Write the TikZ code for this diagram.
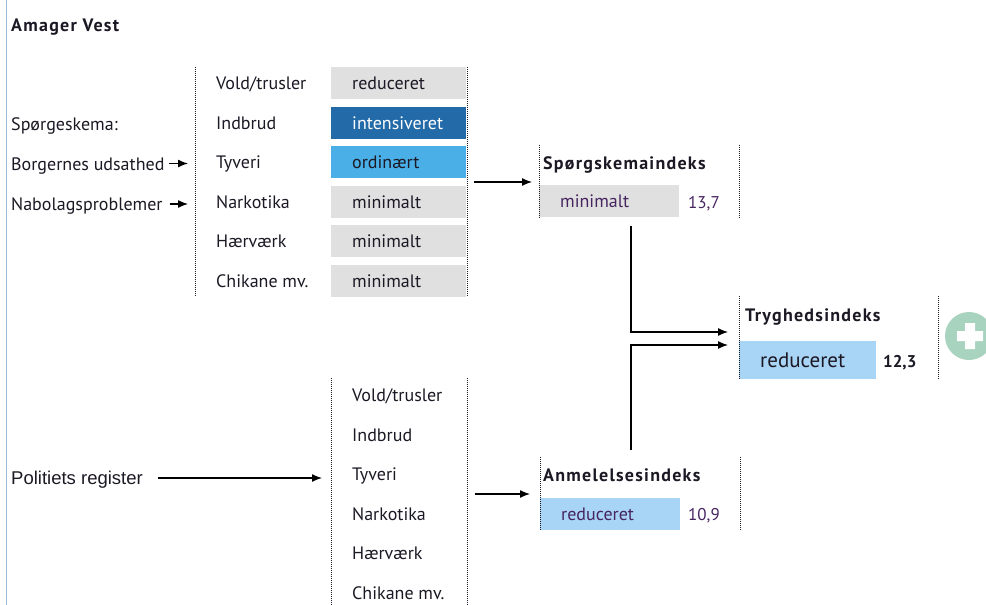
\documentclass[tikz,border=0pt]{standalone}
\usepackage{fontspec}
\setmainfont{PT Sans}
\newfontfamily\titlefont[LetterSpace=7]{PT Sans}
\newfontfamily\registerfont{Liberation Sans}
\usepackage{xcolor}
\definecolor{textdark}{RGB}{28,24,36}
\definecolor{indextext}{RGB}{70,36,96}
\definecolor{boxgray}{RGB}{224,224,224}
\definecolor{darkblue}{RGB}{35,106,168}
\definecolor{midblue}{RGB}{73,175,230}
\definecolor{lightblue}{RGB}{168,212,245}
\definecolor{plusgreen}{RGB}{168,211,191}
\definecolor{edgeblue}{RGB}{160,185,215}
\usepackage{tikz}
\usetikzlibrary{calc}
\usetikzlibrary{arrows.meta}
\newcommand{\rowstep}{39.6}
\newcommand{\widthval}{93pt}
\newcommand{\widthindex}{98pt}
\tikzset{
    common/.style={anchor=west, inner sep=0pt, text=textdark, text height=13pt, text depth=0pt,
        font=\fontsize{18}{21}\selectfont},
    item/.style={common},
    title/.style={common, font=\titlefont\fontsize{18}{21}\selectfont\bfseries},
    value/.style={common, rectangle, minimum height=32pt, inner xsep=21pt, text width=\widthval, align=left},
    index/.style={value, text width=\widthindex, text=indextext},
    score/.style={common, text=indextext, font=\fontsize{17}{20}\selectfont},
    frame/.style={textdark, line width=1pt, dash pattern=on 1pt off 1pt},
    flow/.style={->, line width=1.3pt, black}
}

\begin{document}
\begin{tikzpicture}[x=1pt, y=-1pt, >={Latex[length=10pt, width=8pt]}]
      \useasboundingbox (0,0) rectangle (986,605);
      \draw[edgeblue, line width=1.2pt] (6.5,0) -- (6.5,605);

      \node[title] (area) at (11,25) {Amager Vest};

      % questionnaire inputs
      \path (11,124) node[item] (sporgeskema) {Spørgeskema:}
          to ++(0,39.5) node[item] (borger) {Borgernes udsathed}
          to ++(0,40.5) node[item] (nabo) {Nabolagsproblemer};

      % crime rows, questionnaire
      \coordinate (tabA-nw) at (195,67);
      \coordinate (tabA-sw) at (195,297);
      \coordinate (tabA-ne) at (467,67);
      \coordinate (tabA-se) at (467,297);
      \path (216,83) node[item] (voldA) {Vold/trusler}
          to ++(0,\rowstep) node[item] (indbrudA) {Indbrud}
          to ++(0,\rowstep) node[item] (tyveriA) {Tyveri}
          to ++(0,\rowstep) node[item] (narkoA) {Narkotika}
          to ++(0,\rowstep) node[item] (haervaerkA) {Hærværk}
          to ++(0,\rowstep) node[item] (chikaneA) {Chikane mv.};
      \path (331,83) node[value, fill=boxgray] (voldA-val) {reduceret}
          to ++(0,\rowstep) node[value, fill=darkblue, text=white] (indbrudA-val) {intensiveret}
          to ++(0,\rowstep) node[value, fill=midblue] (tyveriA-val) {ordinært}
          to ++(0,\rowstep) node[value, fill=boxgray] (narkoA-val) {minimalt}
          to ++(0,\rowstep) node[value, fill=boxgray] (haervaerkA-val) {minimalt}
          to ++(0,\rowstep) node[value, fill=boxgray] (chikaneA-val) {minimalt};
      \draw[frame] (tabA-nw) -- (tabA-sw);
      \draw[frame] (tabA-ne) -- (tabA-se);

      % questionnaire index
      \coordinate (sporg-nw) at (539,145);
      \coordinate (sporg-sw) at (539,218);
      \coordinate (sporg-ne) at (739,145);
      \coordinate (sporg-se) at (739,218);
      \node[title] (sporg-title) at (543,163) {Spørgskemaindeks};
      \node[index, fill=boxgray] (sporg-val) at (539,201) {minimalt};
      \node[score] (sporg-score) at (688,202) {13,7};
      \draw[frame] (sporg-nw) -- (sporg-sw);
      \draw[frame] (sporg-ne) -- (sporg-se);

      % safety index
      \coordinate (tryg-nw) at (739,296);
      \coordinate (tryg-sw) at (739,380);
      \coordinate (tryg-ne) at (938,296);
      \coordinate (tryg-se) at (938,380);
      \node[title] (tryg-title) at (745,315) {Tryghedsindeks};
      \node[index, fill=lightblue, text=textdark, minimum height=38pt, text width=95pt, text height=15pt,
            font=\fontsize{21}{24}\selectfont] (tryg-val) at (739,360) {reduceret};
      \node[score, text=textdark, font=\fontsize{17}{20}\selectfont\bfseries] (tryg-score) at (883,361) {12,3};
      \draw[frame] (tryg-nw) -- (tryg-sw);
      \draw[frame] (tryg-ne) -- (tryg-se);
      \fill[plusgreen] (969,336) circle (24);
      \fill[white] (965,323) rectangle (975,349) (957,331) rectangle (983,341);

      % police register
      \node[item, text height=13pt, font=\registerfont\fontsize{18.5}{21}\selectfont] (politi) at (11,478) {Politiets register};
      \coordinate (tabB-nw) at (331,378);
      \coordinate (tabB-sw) at (331,606);
      \coordinate (tabB-ne) at (467,378);
      \coordinate (tabB-se) at (467,606);
      \path (352,395) node[item] (voldB) {Vold/trusler}
          to ++(0,\rowstep) node[item] (indbrudB) {Indbrud}
          to ++(0,\rowstep) node[item] (tyveriB) {Tyveri}
          to ++(0,\rowstep) node[item] (narkoB) {Narkotika}
          to ++(0,\rowstep) node[item] (haervaerkB) {Hærværk}
          to ++(0,\rowstep) node[item] (chikaneB) {Chikane mv.};
      \draw[frame] (tabB-nw) -- (tabB-sw);
      \draw[frame] (tabB-ne) -- (tabB-se);

      % report index
      \coordinate (anm-nw) at (540,457);
      \coordinate (anm-sw) at (540,530);
      \coordinate (anm-ne) at (740,457);
      \coordinate (anm-se) at (740,530);
      \node[title] (anm-title) at (543,475) {Anmelelsesindeks};
      \node[index, fill=lightblue] (anm-val) at (540,514) {reduceret};
      \node[score] (anm-score) at (688,514) {10,9};
      \draw[frame] (anm-nw) -- (anm-sw);
      \draw[frame] (anm-ne) -- (anm-se);

      % connectors
      \coordinate (tabA-out) at (467,182);
      \coordinate (tabB-out) at (467,494);
      \coordinate (sporg-out) at (631,226);
      \coordinate (anm-out) at (631,450);
      \coordinate (tryg-in-a) at (728,332);
      \coordinate (tryg-in-b) at (728,345);
      \draw[flow, shorten <=4pt, shorten >=7pt] (borger.east) -- (borger.east -| tabA-nw);
      \draw[flow, shorten <=7pt, shorten >=7pt] (nabo.east) -- (nabo.east -| tabA-nw);
      \draw[flow, shorten <=7pt, shorten >=7pt] (tabA-out) -- (tabA-out -| sporg-nw);
      \draw[flow] (sporg-out) |- (tryg-in-a);
      \draw[flow] (anm-out) |- (tryg-in-b);
      \draw[flow, shorten <=15pt, shorten >=9pt] (politi.east) -- (politi.east -| tabB-nw);
      \draw[flow, shorten <=8pt, shorten >=10pt] (tabB-out) -- (tabB-out -| anm-nw);

  \end{tikzpicture}
\end{document}
